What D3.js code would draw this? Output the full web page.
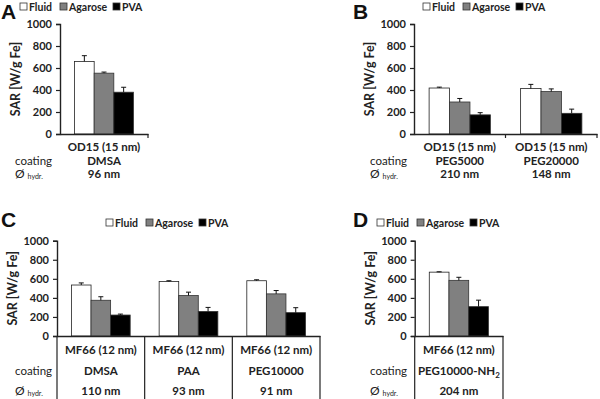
<!DOCTYPE html>
<html>
<head>
<meta charset="utf-8">
<script src="https://cdn.jsdelivr.net/npm/d3@7"></script>
<style>
  body { margin: 0; background: #fff; }
  svg { display: block; font-family: Lato, "Open Sans", sans-serif; font-weight: bold; }
</style>
</head>
<body>
<svg id="chart" width="600" height="399"></svg>
<script>
// series + ticks
const series = ["Fluid", "Agarose", "PVA"];
const seriesFill = ["#ffffff", "#808080", "#000000"];
const yTicks = [0, 200, 400, 600, 800, 1000];

// panel A
const aParticles = ["OD15 (15 nm)"];
const aCoatings = ["DMSA"];
const aSizes = ["96 nm"];
const aFluid = [660], aAgarose = [553], aPVA = [380];
const aFluidErr = [52], aAgaroseErr = [10], aPVAErr = [45];

// panel B
const bParticles = ["OD15 (15 nm)", "OD15 (15 nm)"];
const bCoatings = ["PEG5000", "PEG20000"];
const bSizes = ["210 nm", "148 nm"];
const bFluid = [418, 413], bAgarose = [291, 386], bPVA = [174, 188];
const bFluidErr = [8, 38], bAgaroseErr = [32, 24], bPVAErr = [20, 38];

// panel C
const cParticles = ["MF66 (12 nm)", "MF66 (12 nm)", "MF66 (12 nm)"];
const cCoatings = ["DMSA", "PAA", "PEG10000"];
const cSizes = ["110 nm", "93 nm", "91 nm"];
const cFluid = [535, 572, 580], cAgarose = [375, 425, 442], cPVA = [220, 258, 245];
const cFluidErr = [22, 8, 10], cAgaroseErr = [37, 35, 35], cPVAErr = [10, 42, 52];

// panel D
const dParticles = ["MF66 (12 nm)"];
const dCoatings = ["PEG10000-NH2"];
const dSizes = ["204 nm"];
const dFluid = [670], dAgarose = [584], dPVA = [308];
const dFluidErr = [4], dAgaroseErr = [32], dPVAErr = [68];

const svg = d3.select("#chart");
const ink = "#222";

function drawPanel(p) {
    const g = svg.append("g");
    const groups = p.particles.map((d, i) => i);

    const x0 = d3.scaleBand().domain(groups).range([p.x0, p.x1]).padding(0);
    const x1 = d3.scaleBand().domain(series).range([0, x0.bandwidth()])
        .paddingInner(0).paddingOuter(0.74);
    const y = d3.scaleLinear().domain([0, 1000]).range([p.y0, p.y1]);

    // panel letter
    g.append("text")
        .attr("x", p.letterX).attr("y", p.letterY)
        .attr("font-family", "Liberation Sans, Arial, sans-serif")
        .attr("font-size", 21).attr("fill", "#111")
        .text(p.letter);

    // legend
    const leg = g.append("g").attr("transform", `translate(${p.legX},${p.legY})`);
    const legOffsets = [0, 40, 93];
    series.forEach((s, i) => {
        leg.append("rect")
            .attr("x", legOffsets[i]).attr("y", -7)
            .attr("width", 7).attr("height", 7)
            .attr("fill", seriesFill[i]).attr("stroke", "#333").attr("stroke-width", 0.8);
        leg.append("text")
            .attr("x", legOffsets[i] + 9).attr("y", 0.5)
            .attr("font-size", 10.5).attr("fill", ink)
            .text(s);
    });

    // y axis
    const yAxis = d3.axisLeft(y).tickValues(yTicks).tickFormat(d3.format("d"))
        .tickSize(4).tickPadding(4);
    g.append("g")
        .attr("transform", `translate(${p.x0},0)`)
        .call(yAxis)
        .call(a => a.selectAll("text").attr("fill", ink).attr("font-size", 11)
            .attr("font-family", "Lato, sans-serif").attr("font-weight", "bold"))
        .call(a => a.selectAll("line").attr("stroke", ink).attr("stroke-width", 1.2))
        .call(a => a.select(".domain").attr("stroke", ink).attr("stroke-width", 1.4));

    g.append("text")
        .attr("transform", `translate(${p.x0 - 40},${(p.y0 + p.y1) / 2}) rotate(-90)`)
        .attr("text-anchor", "middle")
        .attr("font-size", 12.5).attr("fill", ink)
        .text("SAR [W/g Fe]");

    // bars
    const rows = groups.map(i => ({
        i,
        vals: [p.fluid[i], p.agarose[i], p.pva[i]],
        errs: [p.fluidErr[i], p.agaroseErr[i], p.pvaErr[i]]
    }));

    rows.forEach(r => {
        series.forEach((s, k) => {
            const bx = x0(r.i) + x1(s);
            g.append("rect")
                .attr("x", bx).attr("y", y(r.vals[k]))
                .attr("width", x1.bandwidth())
                .attr("height", y(0) - y(r.vals[k]))
                .attr("fill", seriesFill[k])
                .attr("stroke", k === 0 ? "#222" : "#333").attr("stroke-width", 0.8);
            const cx = bx + x1.bandwidth() / 2;
            const top = y(r.vals[k] + r.errs[k]);
            g.append("line")
                .attr("x1", cx).attr("x2", cx)
                .attr("y1", y(r.vals[k])).attr("y2", top)
                .attr("stroke", "#111").attr("stroke-width", 1);
            g.append("line")
                .attr("x1", cx - 2.5).attr("x2", cx + 2.5)
                .attr("y1", top).attr("y2", top)
                .attr("stroke", "#111").attr("stroke-width", 1);
        });
    });

    // x axis
    const xAxis = d3.axisBottom(x0).tickValues([]).tickSizeOuter(0);
    g.append("g")
        .attr("transform", `translate(0,${p.y0})`)
        .call(xAxis)
        .call(a => a.select(".domain").attr("stroke", ink).attr("stroke-width", 1.4));

    const boundaries = groups.map(i => x0(i) + x0.bandwidth());
    if (p.table) {
        // table grid lines down to the bottom
        [p.x0].concat(boundaries).forEach(bx => {
            g.append("line")
                .attr("x1", bx).attr("x2", bx)
                .attr("y1", p.y0).attr("y2", 399)
                .attr("stroke", ink).attr("stroke-width", 1.2);
        });
    } else {
        boundaries.forEach(bx => {
            g.append("line")
                .attr("x1", bx).attr("x2", bx)
                .attr("y1", p.y0).attr("y2", p.y0 + 4)
                .attr("stroke", ink).attr("stroke-width", 1.2);
        });
    }

    // category table
    groups.forEach(i => {
        const cx = x0(i) + x0.bandwidth() / 2;
        g.append("text").attr("x", cx).attr("y", p.rowY[0])
            .attr("text-anchor", "middle").attr("font-size", 11.5).attr("fill", ink)
            .text(p.particles[i]);
        const ct = g.append("text").attr("x", cx).attr("y", p.rowY[1])
            .attr("text-anchor", "middle").attr("font-size", 11.5).attr("fill", ink);
        const m = p.coatings[i].match(/^(.*NH)(\d)$/);
        if (m) {
            ct.append("tspan").text(m[1]);
            ct.append("tspan").attr("font-size", 8).attr("dy", 3).text(m[2]);
        } else {
            ct.text(p.coatings[i]);
        }
        g.append("text").attr("x", cx).attr("y", p.rowY[2])
            .attr("text-anchor", "middle").attr("font-size", 11.5).attr("fill", ink)
            .text(p.sizes[i]);
    });

    g.append("text").attr("x", p.rowLabelX).attr("y", p.rowY[1])
        .attr("font-size", 11.5).attr("font-weight", "normal").attr("fill", ink)
        .text("coating");
    const dia = g.append("text").attr("x", p.rowLabelX).attr("y", p.rowY[2])
        .attr("fill", ink).attr("font-weight", "normal");
    dia.append("tspan").attr("font-size", 12).text("Ø");
    dia.append("tspan").attr("font-size", 7).attr("dx", 3).attr("dy", 1).text("hydr.");
}

drawPanel({
    letter: "A", letterX: 1, letterY: 19, legX: 20, legY: 10,
    x0: 60, x1: 148, y0: 134, y1: 24,
    particles: aParticles, coatings: aCoatings, sizes: aSizes,
    fluid: aFluid, agarose: aAgarose, pva: aPVA,
    fluidErr: aFluidErr, agaroseErr: aAgaroseErr, pvaErr: aPVAErr,
    rowY: [151, 165, 178], rowLabelX: 15, table: false
});

drawPanel({
    letter: "B", letterX: 353, letterY: 19, legX: 423, legY: 10,
    x0: 414, x1: 597, y0: 134, y1: 24,
    particles: bParticles, coatings: bCoatings, sizes: bSizes,
    fluid: bFluid, agarose: bAgarose, pva: bPVA,
    fluidErr: bFluidErr, agaroseErr: bAgaroseErr, pvaErr: bPVAErr,
    rowY: [151, 165, 178], rowLabelX: 370, table: false
});

drawPanel({
    letter: "C", letterX: 1, letterY: 227, legX: 106, legY: 226,
    x0: 57, x1: 320, y0: 336, y1: 240.7,
    particles: cParticles, coatings: cCoatings, sizes: cSizes,
    fluid: cFluid, agarose: cAgarose, pva: cPVA,
    fluidErr: cFluidErr, agaroseErr: cAgaroseErr, pvaErr: cPVAErr,
    rowY: [354, 375, 395], rowLabelX: 15, table: true
});

drawPanel({
    letter: "D", letterX: 353, letterY: 227, legX: 377, legY: 226,
    x0: 414.7, x1: 503, y0: 336, y1: 240.7,
    particles: dParticles, coatings: dCoatings, sizes: dSizes,
    fluid: dFluid, agarose: dAgarose, pva: dPVA,
    fluidErr: dFluidErr, agaroseErr: dAgaroseErr, pvaErr: dPVAErr,
    rowY: [354, 375, 395], rowLabelX: 370, table: true
});
</script>
</body>
</html>
